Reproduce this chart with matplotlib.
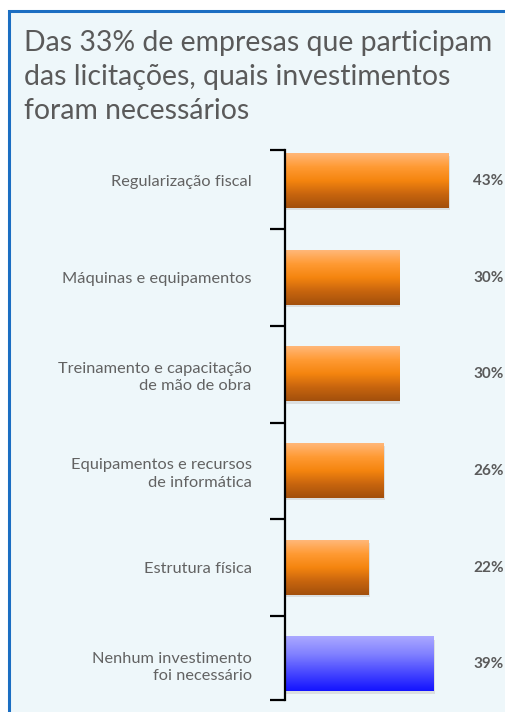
import matplotlib.pyplot as plt
import matplotlib.patches as patches
from matplotlib.colors import LinearSegmentedColormap
import numpy as np

plt.rcParams['font.family'] = ['Lato', 'DejaVu Sans']

# dados
categorias = ['Regularização fiscal',
              'Máquinas e equipamentos',
              'Treinamento e capacitação\nde mão de obra',
              'Equipamentos e recursos\nde informática',
              'Estrutura física',
              'Nenhum investimento\nfoi necessário']
valores = [43, 30, 30, 26, 22, 39]
rotulos = ['43%', '30%', '30%', '26%', '22%', '39%']
destaque = [False, False, False, False, False, True]

titulo = 'Das 33% de empresas que participam\ndas licitações, quais investimentos\nforam necessários'

cinza = '#5a5a5a'
fundo = '#eef7fa'

laranja = LinearSegmentedColormap.from_list('lar', ['#ffb778', '#ff9a33', '#f5850f', '#c8650e', '#a3500c'])
azul = LinearSegmentedColormap.from_list('az', ['#aaa8ff', '#8080ff', '#4848ff', '#1414ff'])

fig = plt.figure(figsize=(5.06, 7.12), dpi=100)
fig.patch.set_facecolor('white')

# moldura azul
fig.patches.append(patches.Rectangle((9/506, -0.05), 1.1, 1 - 11/712 + 0.05, transform=fig.transFigure,
                                     facecolor=fundo, edgecolor='#1b6ec2', linewidth=2.2, zorder=-5))

fig.text(24/506, 1 - 30/712, titulo, fontsize=20.4, color=cinza, va='top', ha='left',
         linespacing=1.38)

ax = fig.add_axes([285/506, 1 - 700/712, 215/506, 550/712])
ax.set_facecolor('none')

n = len(valores)
y = np.arange(n)
h = 0.56
grad = np.linspace(0, 1, 100).reshape(-1, 1)

for i in range(n):
    v = valores[i]
    # sombra
    ax.add_patch(patches.Rectangle((0, y[i] - h/2 + 0.025), v + 0.3, h, facecolor='#cfcfcf',
                                   edgecolor='none', alpha=0.6, zorder=1))
    cmap = azul if destaque[i] else laranja
    ax.imshow(grad, extent=[0, v, y[i] + h/2, y[i] - h/2], origin='upper', aspect='auto',
              cmap=cmap, zorder=2)
    ax.text(49.5, y[i], rotulos[i], va='center', ha='left', fontsize=11, color=cinza,
            fontweight='bold')

ax.set_xlim(0, 56.5)
ax.set_ylim(n - 1 + 0.37, -0.32)

for s in ['top', 'right', 'bottom']:
    ax.spines[s].set_visible(False)
ax.spines['left'].set_linewidth(1.6)
ax.set_xticks([])

ax.set_yticks([-0.32] + list(y[:-1] + 0.5) + [n - 1 + 0.37])
ax.set_yticklabels([])
ax.tick_params(axis='y', which='major', length=11, width=1.6, direction='out')
ax.set_yticks(y, minor=True)
ax.set_yticklabels(categorias, minor=True, fontsize=11.8, color='#626262', ha='right', linespacing=1.3)
ax.tick_params(axis='y', which='minor', length=0, pad=24)

fig.savefig('out.png', dpi=100, facecolor='white')
